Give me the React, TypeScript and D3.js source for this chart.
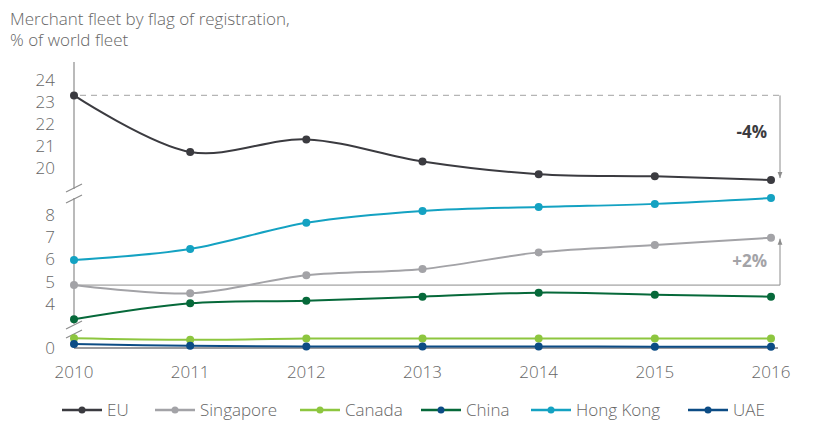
import React from 'react';
import * as d3 from 'd3';

const years = [2010, 2011, 2012, 2013, 2014, 2015, 2016];
const euValues = [23.3, 20.73, 21.3, 20.3, 19.72, 19.62, 19.45];
const singaporeValues = [4.85, 4.48, 5.29, 5.57, 6.32, 6.65, 6.98];
const canadaValues = [0.44, 0.37, 0.43, 0.43, 0.43, 0.43, 0.43];
const chinaValues = [3.31, 4.03, 4.15, 4.33, 4.51, 4.42, 4.33];
const hongKongValues = [5.98, 6.47, 7.65, 8.18, 8.36, 8.5, 8.76];
const uaeValues = [0.18, 0.1, 0.07, 0.07, 0.07, 0.06, 0.06];
const upperTicks = [24, 23, 22, 21, 20];
const middleTicks = [8, 7, 6, 5, 4];
const lowerTicks = [0];
const legendNames = ['EU', 'Singapore', 'Canada', 'China', 'Hong Kong', 'UAE'];

const font = '"Open Sans", sans-serif';
const textGray = '#666666';
const axisGray = '#8c8c8c';

const x = d3.scaleLinear().domain([2010, 2016]).range([74, 771]);
const yUpper = d3.scaleLinear().domain([24, 20]).range([80, 168]);
const yMid = d3.scaleLinear().domain([8, 4]).range([215, 304]);
const yLow = d3.scaleLinear().domain([0, 1]).range([348, 326]);

const series = [
  { name: 'EU', values: euValues, color: '#3b3b40', y: yUpper },
  { name: 'Singapore', values: singaporeValues, color: '#a3a3a7', y: yMid },
  { name: 'Canada', values: canadaValues, color: '#8dc63f', y: yLow },
  { name: 'China', values: chinaValues, color: '#06693a', y: yMid },
  { name: 'Hong Kong', values: hongKongValues, color: '#14a2c2', y: yMid },
  { name: 'UAE', values: uaeValues, color: '#0c4c85', y: yLow },
];

// legend dots differ a bit from the lines in the original
const legendDot = ['#3b3b40', '#a3a3a7', '#8dc63f', '#0c4c85', '#14a2c2', '#0c4c85'];
const legendX = [62, 155, 300, 421, 531, 688];

function Lines() {
  return (
    <g>
      {series.map((s) => {
        const line = d3
          .line<number>()
          .x((_, i) => x(years[i]))
          .y((v) => s.y(v))
          .curve(d3.curveCatmullRom.alpha(0.5));
        return (
          <g key={s.name}>
            <path d={line(s.values) || ''} fill="none" stroke={s.color} strokeWidth={2} />
            {s.values.map((v, i) => (
              <circle key={i} cx={x(years[i])} cy={s.y(v)} r={4} fill={s.color} />
            ))}
          </g>
        );
      })}
    </g>
  );
}

function BreakMark({ y }: { y: number }) {
  return <line x1={x(2010) - 8} y1={y + 4} x2={x(2010) + 8} y2={y - 4} stroke={axisGray} strokeWidth={1.2} />;
}

export default function App() {
  const x0 = x(2010);
  const xr = 780;
  const euStart = yUpper(euValues[0]);
  const euEnd = yUpper(euValues[6]);
  const sgStart = yMid(singaporeValues[0]);
  const sgEnd = yMid(singaporeValues[6]);
  const tickProps = { textAnchor: 'end' as const, fontSize: 17, fill: textGray, fontWeight: 300, dy: '0.35em' };

  return (
    <svg width={813} height={421} style={{ position: 'absolute', left: 0, top: 0 }} fontFamily={font}>
      <defs>
        <marker id="arr" viewBox="0 0 10 10" refX="10" refY="5" markerWidth="6" markerHeight="6" orient="auto">
          <path d="M0,1 L10,5 L0,9 Z" fill={axisGray} />
        </marker>
      </defs>
      <text x={10} y={25} fontSize={17} fill={textGray} fontWeight={300}>Merchant fleet by flag of registration,</text>
      <text x={10} y={46} fontSize={17} fill={textGray} fontWeight={300}>% of world fleet</text>

      {/* axis segments */}
      <line x1={x0} x2={x0} y1={62} y2={189} stroke={axisGray} strokeWidth={1.2} />
      <line x1={x0} x2={x0} y1={198} y2={324} stroke={axisGray} strokeWidth={1.2} />
      <line x1={x0} x2={x0} y1={334} y2={348} stroke={axisGray} strokeWidth={1.2} />
      <BreakMark y={188} />
      <BreakMark y={199} />
      <BreakMark y={325} />
      <BreakMark y={334} />
      <line x1={x0} x2={778} y1={yLow(0)} y2={yLow(0)} stroke="#9a9a9e" strokeWidth={2} />

      {upperTicks.map((t) => (
        <text key={t} x={55} y={yUpper(t)} {...tickProps}>{t}</text>
      ))}
      {middleTicks.map((t) => (
        <text key={t} x={55} y={yMid(t)} {...tickProps}>{t}</text>
      ))}
      {lowerTicks.map((t) => (
        <text key={t} x={55} y={yLow(t)} {...tickProps}>{t}</text>
      ))}
      {years.map((yr) => (
        <text key={yr} x={x(yr)} y={378} textAnchor="middle" fontSize={17} fill={textGray} fontWeight={300}>{yr}</text>
      ))}

      {/* change annotations */}
      <line x1={x0 + 6} x2={xr} y1={euStart} y2={euStart} stroke="#b5b5b5" strokeWidth={1.2} strokeDasharray="6,5" />
      <line x1={xr} x2={xr} y1={euStart} y2={euEnd - 2} stroke={axisGray} strokeWidth={1} markerEnd="url(#arr)" />
      <text x={767} y={138} textAnchor="end" fontSize={17} fontWeight={700} fill="#3b3b40">-4%</text>
      <line x1={x0} x2={xr} y1={sgStart} y2={sgStart} stroke={axisGray} strokeWidth={1} />
      <line x1={xr} x2={xr} y1={sgStart} y2={sgEnd + 1} stroke={axisGray} strokeWidth={1} markerEnd="url(#arr)" />
      <text x={767} y={267} textAnchor="end" fontSize={17} fontWeight={700} fill="#a3a3a7">+2%</text>

      <Lines />

      {series.map((s, i) => (
        <g key={s.name} transform={`translate(${legendX[i]},410)`}>
          <line x1={0} x2={40} y1={0} y2={0} stroke={s.color} strokeWidth={2.5} />
          <circle cx={20} cy={0} r={3.5} fill={legendDot[i]} />
          <text x={45} y={6} fontSize={17} fill={textGray} fontWeight={300}>{legendNames[i]}</text>
        </g>
      ))}
    </svg>
  );
}
